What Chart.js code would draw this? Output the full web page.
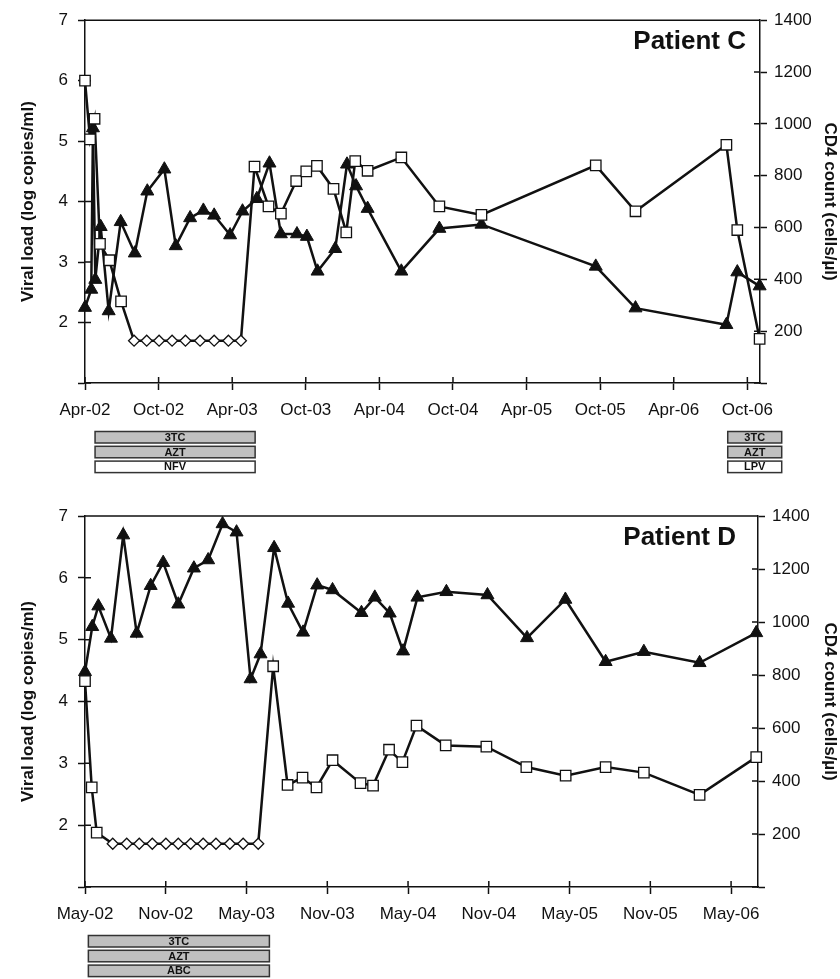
<!DOCTYPE html>
<html>
<head>
<meta charset="utf-8">
<script src="https://cdn.jsdelivr.net/npm/chart.js@4"></script>
<style>
  html, body { margin: 0; padding: 0; background: #fff; }
  #wrap { position: relative; width: 840px; height: 979px; }
  canvas { position: absolute; left: 0; }
</style>
</head>
<body>
<div id="wrap">
  <canvas id="chartC" width="840" height="485" style="top:0"></canvas>
  <canvas id="chartD" width="840" height="494" style="top:485px"></canvas>
</div>
<script>
"use strict";

// ---- Patient C (x = months since Apr-02) ----
const cTicks = ["Apr-02", "Oct-02", "Apr-03", "Oct-03", "Apr-04", "Oct-04", "Apr-05", "Oct-05", "Apr-06", "Oct-06"];
const cVlMonth = [0, 0.41, 0.78, 1.22, 1.98, 2.94, 4.0, 5.03, 6.04, 7.1, 8.19, 9.38, 10.53, 11.69, 12.71,
  13.82, 14.96, 15.97, 17.22, 18.04, 18.91, 20.26, 21.3, 22.03, 23.04, 25.79, 28.89, 32.32, 41.64, 44.88, 52.29, 53.18, 55.0];
const cVl = [6.0, 5.03, 5.37, 3.3, 3.03, 2.35, 1.7, 1.7, 1.7, 1.7, 1.7, 1.7, 1.7, 1.7, 1.7,
  4.58, 3.92, 3.8, 4.34, 4.5, 4.59, 4.21, 3.49, 4.67, 4.51, 4.73, 3.92, 3.78, 4.6, 3.84, 4.94, 3.53, 1.73];
const cCd4Month = [0, 0.51, 0.65, 0.84, 1.28, 1.93, 2.91, 4.06, 5.08, 6.47, 7.4, 8.57, 9.65, 10.53, 11.83, 12.84,
  14.01, 15.04, 15.97, 17.28, 18.09, 18.96, 20.4, 21.36, 22.1, 23.04, 25.79, 28.89, 32.32, 41.64, 44.88, 52.29, 53.18, 55.0];
const cCd4 = [291, 361, 984, 399, 603, 278, 622, 501, 740, 825, 529, 637, 666, 647, 571, 663,
  711, 848, 575, 575, 565, 431, 518, 844, 760, 673, 431, 596, 612, 450, 289, 225, 428, 374];
const cDrugs = ["3TC", "AZT", "NFV", "3TC", "AZT", "LPV"];
const cDrugRow = [0, 1, 2, 0, 1, 2];
const cDrugStart = [0.82, 0.82, 0.82, 52.4, 52.4, 52.4];
const cDrugEnd = [13.87, 13.87, 13.87, 56.8, 56.8, 56.8];

// ---- Patient D (x = months since May-02) ----
const dTicks = ["May-02", "Nov-02", "May-03", "Nov-03", "May-04", "Nov-04", "May-05", "Nov-05", "May-06"];
const dVlMonth = [0, 0.5, 0.87, 2.06, 3.1, 4.03, 5.0, 6.01, 6.93, 7.85, 8.78, 9.73, 10.76, 11.75, 12.87,
  13.98, 15.05, 16.16, 17.2, 18.39, 20.47, 21.4, 22.59, 23.58, 24.63, 26.8, 29.82, 32.79, 35.71, 38.68, 41.52, 45.66, 49.87];
const dVl = [4.33, 2.61, 1.88, 1.7, 1.7, 1.7, 1.7, 1.7, 1.7, 1.7, 1.7, 1.7, 1.7, 1.7, 1.7,
  4.57, 2.65, 2.77, 2.61, 3.05, 2.68, 2.64, 3.22, 3.02, 3.61, 3.29, 3.27, 2.94, 2.8, 2.94, 2.85, 2.49, 3.1];
const dCd4Month = [0, 0.54, 0.99, 1.93, 2.84, 3.84, 4.88, 5.81, 6.93, 8.09, 9.15, 10.22, 11.26, 12.3, 13.04,
  14.05, 15.09, 16.2, 17.25, 18.39, 20.54, 21.53, 22.64, 23.63, 24.7, 26.85, 29.9, 32.84, 35.69, 38.68, 41.52, 45.66, 49.87];
const dCd4 = [812, 982, 1060, 938, 1328, 957, 1137, 1224, 1067, 1203, 1234, 1370, 1339, 785, 879,
  1280, 1070, 961, 1139, 1121, 1035, 1093, 1033, 890, 1093, 1114, 1102, 940, 1085, 850, 888, 846, 959];
const dDrugs = ["3TC", "AZT", "ABC"];
const dDrugRow = [0, 1, 2];
const dDrugStart = [0.25, 0.25, 0.25];
const dDrugEnd = [13.7, 13.7, 13.7];

// ---- styling ----
const INK = "#111";
const FONT = '"Liberation Sans", Arial, Helvetica, sans-serif';
const NARROW = '"Liberation Sans Narrow", "Arial Narrow", "Liberation Sans", sans-serif';
const LOD = 1.7;                 // below detection -> open diamond
const PI_DRUGS = ["NFV", "LPV"]; // white bars
const TICK_IN = 6;

Chart.defaults.font.family = FONT;
Chart.defaults.color = INK;

// box top line, inner halves of the tick marks, panel label, treatment bars
const frame = {
  id: "frame",
  beforeDatasetsDraw(chart, _args, o) {
    const { ctx, chartArea: a, scales: { x, y, y1 } } = chart;
    ctx.save();
    ctx.strokeStyle = INK;
    ctx.lineWidth = 1.5;
    ctx.beginPath();
    ctx.moveTo(a.left, a.top); ctx.lineTo(a.right, a.top);
    x.ticks.forEach((t) => { const p = x.getPixelForValue(t.value); ctx.moveTo(p, a.bottom); ctx.lineTo(p, a.bottom - TICK_IN); });
    y.ticks.forEach((t) => { const p = y.getPixelForValue(t.value); ctx.moveTo(a.left, p); ctx.lineTo(a.left + TICK_IN, p); });
    y1.ticks.forEach((t) => { const p = y1.getPixelForValue(t.value); ctx.moveTo(a.right, p); ctx.lineTo(a.right - TICK_IN, p); });
    ctx.stroke();

    ctx.fillStyle = INK;
    ctx.font = `bold 26px ${FONT}`;
    ctx.textAlign = "right";
    ctx.textBaseline = "alphabetic";
    ctx.fillText(o.label, a.right - o.labelInset, a.top + 29);

    ctx.font = `bold 11px ${NARROW}`;
    ctx.textAlign = "center";
    ctx.textBaseline = "middle";
    ctx.strokeStyle = "#333";
    o.drugs.forEach((d, i) => {
      const x0 = x.getPixelForValue(o.start[i]);
      const x1 = x.getPixelForValue(o.end[i]);
      const top = a.bottom + 48.5 + 14.8 * o.row[i];
      ctx.fillStyle = PI_DRUGS.includes(d) ? "#fff" : "#c0c0c0";
      ctx.fillRect(x0, top, x1 - x0, 11.5);
      ctx.strokeRect(x0, top, x1 - x0, 11.5);
      ctx.fillStyle = INK;
      ctx.fillText(d, (x0 + x1) / 2, top + 6.2);
    });
    ctx.restore();
  },
};

const pts = (xs, ys) => xs.map((m, i) => ({ x: m, y: ys[i] }));
const below = (c) => c.raw && c.raw.y <= LOD;

function makeChart(id, p) {
  return new Chart(document.getElementById(id), {
    type: "line",
    data: {
      datasets: [
        {
          label: "Viral load", data: pts(p.vlMonth, p.vl), yAxisID: "y",
          borderColor: INK, borderWidth: 2.5, tension: 0, clip: false,
          pointStyle: (c) => (below(c) ? "rectRot" : "rect"),
          pointRadius: (c) => (below(c) ? 5.5 : 7.4),
          pointBackgroundColor: "#fff", pointBorderColor: INK, pointBorderWidth: 1.3,
        },
        {
          label: "CD4", data: pts(p.cd4Month, p.cd4), yAxisID: "y1",
          borderColor: INK, borderWidth: 2.5, tension: 0, clip: false,
          pointStyle: "triangle", pointRadius: 7.5,
          pointBackgroundColor: INK, pointBorderColor: INK, pointBorderWidth: 1,
        },
      ],
    },
    options: {
      responsive: false,
      animation: false,
      events: [],
      layout: { padding: { top: p.padTop, left: 0, right: 0, bottom: 0 } },
      plugins: {
        legend: { display: false },
        tooltip: { enabled: false },
        frame: { label: p.label, labelInset: p.labelInset, drugs: p.drugs, row: p.row, start: p.start, end: p.end },
      },
      scales: {
        x: {
          type: "linear", min: 0, max: p.xMax,
          afterBuildTicks: (s) => { s.ticks = p.ticks.map((_, i) => ({ value: i * 6 })); },
          afterFit: (s) => { s.height = p.xHeight; },
          ticks: { callback: (v, i) => p.ticks[i], font: { size: 17 }, color: INK, padding: 10, maxRotation: 0, autoSkip: false },
          grid: { drawOnChartArea: false, tickLength: 7, color: INK, tickWidth: 1.5 },
          border: { color: INK, width: 1.5 },
        },
        y: {
          position: "left", min: 1, max: 7,
          afterFit: (s) => { s.width = 85; },
          ticks: { stepSize: 1, callback: (v) => (v === 1 ? "" : v), font: { size: 17 }, color: INK, padding: 10 },
          grid: { drawOnChartArea: false, tickLength: 7, color: INK, tickWidth: 1.5 },
          border: { color: INK, width: 1.5 },
          title: { display: true, text: "Viral load (log copies/ml)", color: INK, font: { size: 17, weight: "bold" }, padding: { top: 18, bottom: 0 } },
        },
        y1: {
          position: "right", min: 0, max: 1400,
          afterFit: (s) => { s.width = p.rightWidth; },
          ticks: { stepSize: 200, callback: (v) => (v === 0 ? "" : v), font: { size: 17 }, color: INK, padding: 7 },
          grid: { drawOnChartArea: false, tickLength: 7, color: INK, tickWidth: 1.5 },
          border: { color: INK, width: 1.5 },
          title: { display: true, text: "CD4 count (cells/µl)", color: INK, font: { size: 17, weight: "bold" }, padding: { top: 0, bottom: 0 } },
        },
      },
    },
    plugins: [frame],
  });
}

makeChart("chartC", {
  ticks: cTicks, vlMonth: cVlMonth, vl: cVl, cd4Month: cCd4Month, cd4: cCd4,
  drugs: cDrugs, row: cDrugRow, start: cDrugStart, end: cDrugEnd,
  xMax: 55.03, padTop: 16, xHeight: 102, rightWidth: 80, label: "Patient C", labelInset: 14,
});

makeChart("chartD", {
  ticks: dTicks, vlMonth: dVlMonth, vl: dVl, cd4Month: dCd4Month, cd4: dCd4,
  drugs: dDrugs, row: dDrugRow, start: dDrugStart, end: dDrugEnd,
  xMax: 50.0, padTop: 31, xHeight: 92, rightWidth: 82, label: "Patient D", labelInset: 22,
});
</script>
</body>
</html>
